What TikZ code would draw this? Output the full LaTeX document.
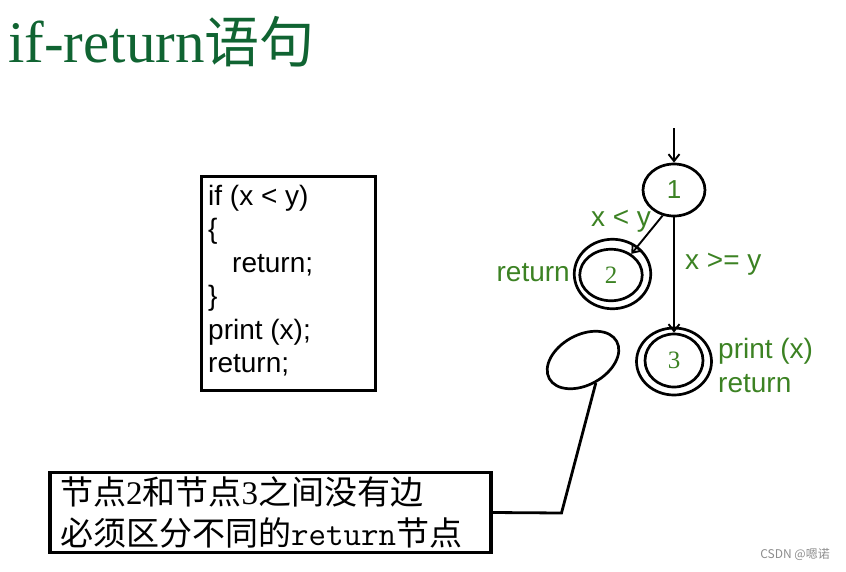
\documentclass[tikz,border=0pt]{standalone}
\usepackage{fontspec}
\usetikzlibrary{shapes.geometric,arrows.meta}
\newfontfamily\cjkf{Noto Sans CJK SC}
\newfontfamily\arialf{Liberation Sans}
\newfontfamily\serf{Liberation Serif}
\definecolor{titlegreen}{RGB}{16,100,50}
\definecolor{labgreen}{RGB}{60,130,35}
\begin{document}
\begin{tikzpicture}[x=1pt,y=-1pt,
  state/.style={ellipse,draw,line width=2.7pt,inner sep=0pt,text=labgreen},
  arr/.style={line width=1.9pt,-{Straight Barb[length=7pt,width=11pt]}},
  lab/.style={text=labgreen,font=\arialf\fontsize{28}{28}\selectfont,inner sep=0pt},
  code/.style={anchor=base west,inner sep=0pt,font=\arialf\fontsize{28}{28}\selectfont},
  box/.style={draw,line width=3.3pt,inner sep=0pt}]
\useasboundingbox (0,0) rectangle (846,571);

% title
\node[anchor=base west,inner sep=0pt,text=titlegreen] (title) at (8,62)
  {{\serf\fontsize{59}{59}\selectfont if-return}{\cjkf\fontsize{55}{55}\selectfont 语句}};

% code box
\node[box,minimum width=174,minimum height=214,anchor=north west] (codebox) at (199.5,174.5) {};
\node[code] (c1) at (208,205) {if (x < y)};
\node[code] (c2) at (208,238.5) {\{};
\node[code] (c3) at (232,272) {return;};
\node[code] (c4) at (208,305.5) {\}};
\node[code] (c5) at (208,339) {print (x);};
\node[code] (c6) at (208,372.5) {return;};

% graph
\coordinate (start) at (674,128);
\node[state,minimum width=62,minimum height=52,font=\arialf\fontsize{26}{26}\selectfont] (n1) at (674,190) {1};
\node[state,minimum width=62.5,minimum height=51.5,font=\serf\fontsize{25}{25}\selectfont] (n2) at (611,275) {2};
\node[state,minimum width=76.5,minimum height=69.5] (n2o) at (612.5,274) {};
\node[state,minimum width=58,minimum height=53,font=\serf\fontsize{25}{25}\selectfont] (n3) at (674,360.5) {3};
\node[state,minimum width=75,minimum height=67] (n3o) at (674,361.5) {};

\draw[arr] (start) -- (n1);
\draw[arr] (n1.246) -- (n2.46);
\draw[arr] (n1) -- (n3);

\node[lab] (lxy) at (621,221) {x < y};
\node[lab,anchor=west] (lge) at (685,264) {x >= y};
\node[lab,anchor=east] (lret2) at (570,273) {return};
\node[lab,anchor=west] (lp3) at (718,351) {print (x)};
\node[lab,anchor=west] (lr3) at (718,384) {return};

% callout
\node[ellipse,draw,line width=2.7pt,inner sep=0pt,minimum width=77,minimum height=50,rotate=29] (ell) at (583,360) {};
\node[box,minimum width=441,minimum height=79.5,inner xsep=10pt,inner ysep=0pt,align=left,text width=421pt,
  font=\cjkf\fontsize{33}{41.5}\selectfont] (note) at (270.5,512.5)
  {节点{\serf 2}和节点{\serf 3}之间没有边\\必须区分不同的{\ttfamily\fontsize{34}{41.5}\selectfont return}节点};
\coordinate (bend) at (561.5,513);
\draw[line width=2.8pt] (ell.south) -- (bend) -- (note.east);

% watermark
\node[anchor=east,inner sep=0pt,text=black!45,font=\cjkf\fontsize{12}{12}\selectfont] (wm) at (830,554) {CSDN @嗯诺};
\end{tikzpicture}
\end{document}
